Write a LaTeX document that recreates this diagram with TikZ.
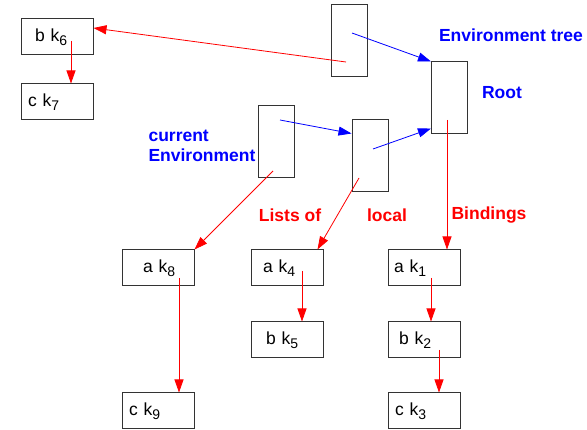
\documentclass[tikz,border=0pt]{standalone}
\usepackage{fontspec}
\setmainfont{Liberation Sans}
\usetikzlibrary{arrows.meta}

\newcommand{\kidx}[1]{k\raisebox{-3.5pt}{\fontsize{14}{14}\selectfont #1}}

\tikzset{
  cell/.style={draw=black!80, line width=1pt, minimum width=72pt, minimum height=36pt,
    inner sep=0pt, text width=72pt, align=left, font=\fontsize{17.5}{20}\selectfont},
  envbox/.style={draw=black!80, line width=1pt, minimum width=36pt, minimum height=72pt, inner sep=0pt},
  bind/.style={red, line width=0.8pt, -{Triangle[length=13pt,width=9pt]}},
  link/.style={blue, line width=0.8pt, -{Triangle[length=13pt,width=9pt]}},
  redlbl/.style={red, font=\fontsize{17.5}{20}\selectfont\bfseries},
  bluelbl/.style={blue, font=\fontsize{17.5}{20}\selectfont\bfseries}
}

\begin{document}
\begin{tikzpicture}[x=1pt, y=-1pt]
    \useasboundingbox (0,0) rectangle (587,430);

    % Environment frames
    \node[envbox] (envA) at (349,40.5) {};
    \node[envbox] (root) at (449.5,98) {};
    \node[envbox] (envC) at (276.5,141.5) {};
    \node[envbox] (envB) at (370,156) {};

    % Binding cells
    \node[cell] (bk6) at (57,37) {\hspace*{14pt}b \kidx{6}};
    \node[cell] (ck7) at (57,102) {\hspace*{7pt}c \kidx{7}};
    \node[cell] (ak8) at (158,268) {\hspace*{21pt}a \kidx{8}};
    \node[cell] (ck9) at (158,411) {\hspace*{7pt}c \kidx{9}};
    \node[cell] (ak4) at (287,268) {\hspace*{12pt}a \kidx{4}};
    \node[cell] (bk5) at (287,340) {\hspace*{15pt}b \kidx{5}};
    \node[cell] (ak1) at (424,268) {\hspace*{6pt}a \kidx{1}};
    \node[cell] (bk2) at (424,340) {\hspace*{11pt}b \kidx{2}};
    \node[cell] (ck3) at (424,411) {\hspace*{7pt}c \kidx{3}};

    % Pointer origins
    \coordinate (pA1) at (346,62);
    \coordinate (pA2) at (352,33);
    \coordinate (pC1) at (280,120);
    \coordinate (pC2) at (273,171);
    \coordinate (pB1) at (373,149);
    \coordinate (pB2) at (359,178);
    \coordinate (pR) at (447,120);
    \coordinate (p6) at (71,41);
    \coordinate (p8) at (179,278);
    \coordinate (p4) at (302,271);
    \coordinate (p1) at (431,278);
    \coordinate (p2) at (439,350);

    % Environment links
    \draw[link] (pA2) -- (root.north west);
    \draw[link] (pC1) -- ([yshift=-14pt]envB.north west);
    \draw[link] (pB1) -- ([yshift=6pt]root.south west);

    % Binding lists
    \draw[bind] (pA1) -- ([yshift=9pt]bk6.east);
    \draw[bind] (p6) -- (p6 |- ck7.north);
    \draw[bind] (pC2) -- (ak8.north east);
    \draw[bind] (p8) -- (p8 |- ck9.north);
    \draw[bind] (pB2) -- ([xshift=-6pt]ak4.north east);
    \draw[bind] (p4) -- (p4 |- bk5.north);
    \draw[bind] (pR) -- (pR |- ak1.north);
    \draw[bind] (p1) -- (p1 |- bk2.north);
    \draw[bind] (p2) -- (p2 |- ck3.north);

    % Labels
    \node[bluelbl] (treelbl) at (511,35) {Environment tree};
    \node[bluelbl] (rootlbl) at (502,93) {Root};
    \node[bluelbl, anchor=west, align=left] (curlbl) at (145,146) {current\\Environment};
    \node[redlbl] (listlbl) at (290,215) {Lists of};
    \node[redlbl] (locallbl) at (387,215) {local};
    \node[redlbl] (bindlbl) at (489,215) {Bindings};
\end{tikzpicture}
\end{document}
